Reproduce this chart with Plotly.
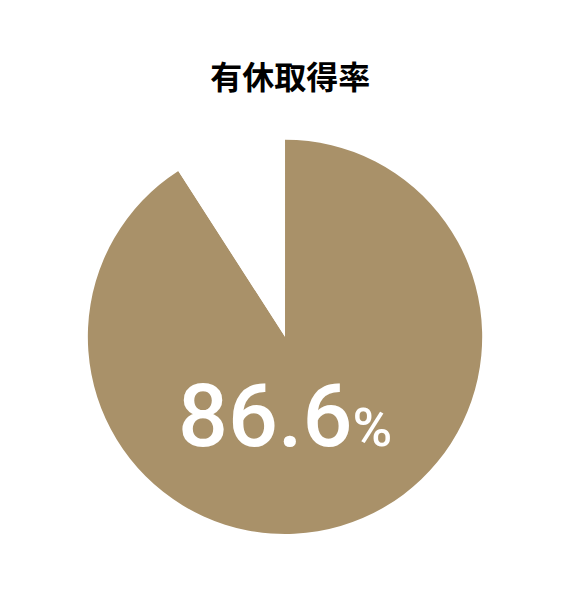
import plotly.graph_objects as go

# slices as they appear in the picture (taken / not taken)
labels = ['取得', '未取得']
values = [90.9, 9.1]
colors = ['#A99169', '#FFFFFF']
rate_text = '86.6'
title = '有休取得率'

fig = go.Figure()
fig.add_trace(go.Pie(labels=labels, values=values, sort=False, direction='clockwise',
                     rotation=0, marker=dict(colors=colors, line=dict(width=0)),
                     textinfo='none', hoverinfo='none', showlegend=False,
                     domain=dict(x=[0.140, 0.832], y=[0.113, 0.778])))

fig.add_annotation(x=0.486, y=0.222, xref='paper', yref='paper', showarrow=False,
                   text=rate_text + "<span style='font-size:54px'>%</span>",
                   font=dict(family='Roboto, Noto Sans', size=88, color='white', weight=500))

fig.update_layout(width=570, height=593, margin=dict(l=0, r=0, t=0, b=0),
                  paper_bgcolor='white', plot_bgcolor='white',
                  title=dict(text=title, x=0.495, xanchor='center', y=0.882, yanchor='middle',
                             font=dict(family='Noto Sans CJK JP', size=32, color='black', weight='bold')))

fig.write_html("out.html")
